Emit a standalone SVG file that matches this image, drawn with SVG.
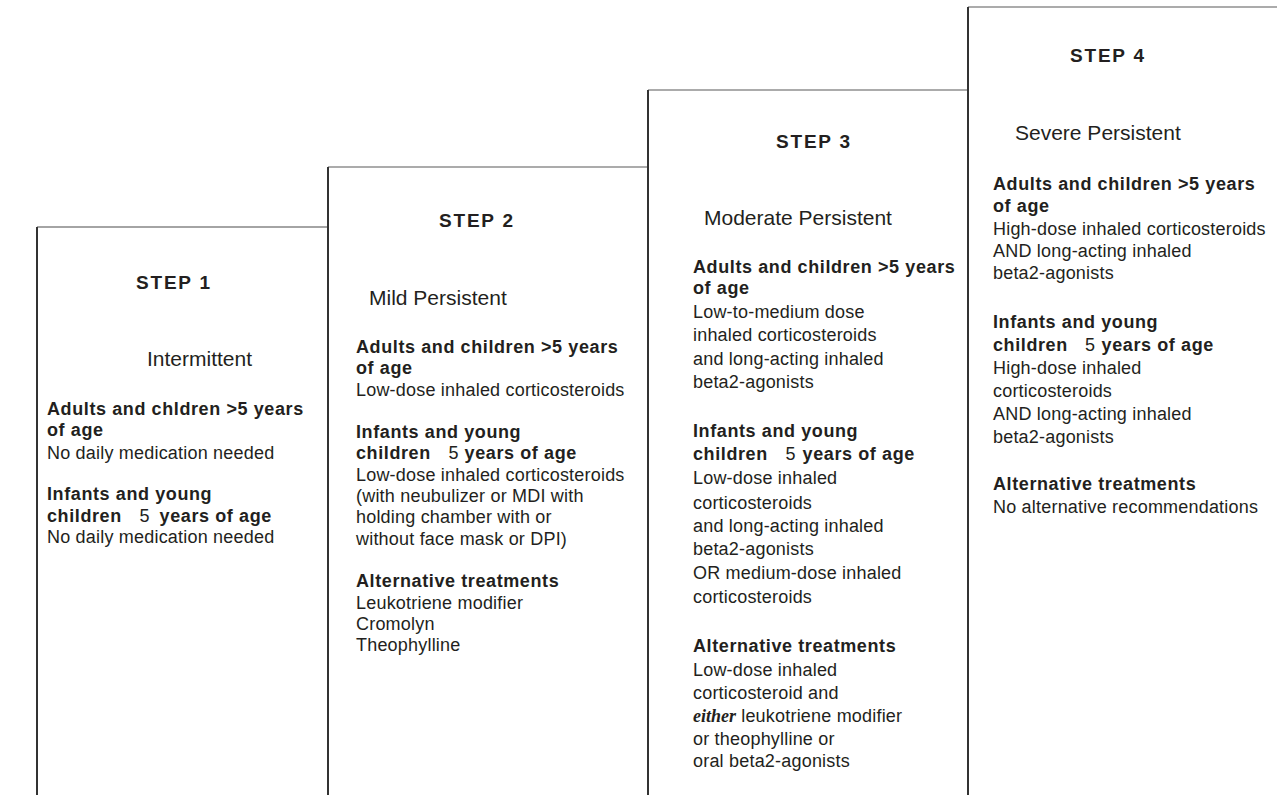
<svg xmlns="http://www.w3.org/2000/svg" width="1277" height="795" viewBox="0 0 1277 795">
<style>
text{font-family:"Liberation Sans",Arial,sans-serif;fill:#231f20}
.h{font-size:19px;font-weight:bold;letter-spacing:1.8px}
.s{font-size:21px;font-weight:normal}
.b{font-size:18px;font-weight:bold;letter-spacing:0.6px}
.r{font-size:18px;letter-spacing:0.2px;font-weight:normal}
.e{font-family:"Liberation Serif","Times New Roman",serif;font-style:italic;font-weight:bold;font-size:18px;letter-spacing:0}
.v{stroke:#333;stroke-width:2;fill:none}
.t{stroke:#8f8f8f;stroke-width:1.5;fill:none}
.t1{stroke:#4a4a4a;stroke-width:1.2;fill:none}
</style>
<rect width="1277" height="795" fill="#fff"/>
<g id="outline">
<path class="t1" d="M37 227H328"/>
<path class="t" d="M328 167H648"/>
<path class="t" d="M648 90H968"/>
<path class="t" d="M968 7H1277"/>
<path class="v" d="M37 227V795"/>
<path class="v" d="M328 167V795"/>
<path class="v" d="M648 90V795"/>
<path class="v" d="M968 7V795"/>
</g>
<g id="step1">
<text class="h" x="136" y="289">STEP 1</text>
<text class="s" x="147" y="366">Intermittent</text>
<text class="b" x="47" y="415">Adults and chldren &gt;5 years</text>
<text class="b" x="47" y="436">of age</text>
<text class="r" x="47" y="459">No daily medication needed</text>
<text class="b" x="47" y="500">Infants and young</text>
<text class="b" x="47" y="522">children<tspan class="r" x="139.5">5</tspan><tspan x="154"> years of age</tspan></text>
<text class="r" x="47" y="543">No daily medication needed</text>
</g>
<g id="step2">
<text class="h" x="439" y="227">STEP 2</text>
<text class="s" x="369" y="305">Mild Persistent</text>
<text class="b" x="356" y="353">Adults and children &gt;5 years</text>
<text class="b" x="356" y="374">of age</text>
<text class="r" x="356" y="396">Low-dose inhaled corticosteroids</text>
<text class="b" x="356" y="438">Infants and young</text>
<text class="b" x="356" y="459">children<tspan class="r" x="448.5">5</tspan><tspan x="459"> years of age</tspan></text>
<text class="r" x="356" y="481">Low-dose inhaled corticosteroids</text>
<text class="r" x="356" y="502">(with neubulizer or MDI with</text>
<text class="r" x="356" y="523">holding chamber with or</text>
<text class="r" x="356" y="545">without face mask or DPI)</text>
<text class="b" x="356" y="587">Alternative treatments</text>
<text class="r" x="356" y="609">Leukotriene modifier</text>
<text class="r" x="356" y="630">Cromolyn</text>
<text class="r" x="356" y="651">Theophylline</text>
</g>
<g id="step3">
<text class="h" x="776" y="148">STEP 3</text>
<text class="s" x="704" y="225">Moderate Persistent</text>
<text class="b" x="693" y="273">Adults and children &gt;5 years</text>
<text class="b" x="693" y="294">of age</text>
<text class="r" x="693" y="318">Low-to-medium dose</text>
<text class="r" x="693" y="341">inhaled corticosteroids</text>
<text class="r" x="693" y="365">and long-acting inhaled</text>
<text class="r" x="693" y="388">beta2-agonists</text>
<text class="b" x="693" y="437">Infants and young</text>
<text class="b" x="693" y="460">children<tspan class="r" x="785.5">5</tspan><tspan x="797"> years of age</tspan></text>
<text class="r" x="693" y="484">Low-dose inhaled</text>
<text class="r" x="693" y="509">corticosteroids</text>
<text class="r" x="693" y="532">and long-acting inhaled</text>
<text class="r" x="693" y="555">beta2-agonists</text>
<text class="r" x="693" y="579">OR medium-dose inhaled</text>
<text class="r" x="693" y="603">corticosteroids</text>
<text class="b" x="693" y="652">Alternative treatments</text>
<text class="r" x="693" y="676">Low-dose inhaled</text>
<text class="r" x="693" y="699">corticosteroid and</text>
<text class="r" x="693" y="722"><tspan class="e">either</tspan> leukotriene modifier</text>
<text class="r" x="693" y="745">or theophylline or</text>
<text class="r" x="693" y="767">oral beta2-agonists</text>
</g>
<g id="step4">
<text class="h" x="1070" y="62">STEP 4</text>
<text class="s" x="1015" y="140">Severe Persistent</text>
<text class="b" x="993" y="190">Adults and children &gt;5 years</text>
<text class="b" x="993" y="212">of age</text>
<text class="r" x="993" y="235">High-dose inhaled corticosteroids</text>
<text class="r" x="993" y="257">AND long-acting inhaled</text>
<text class="r" x="993" y="279">beta2-agonists</text>
<text class="b" x="993" y="328">Infants and young</text>
<text class="b" x="993" y="351">children<tspan class="r" x="1085">5</tspan><tspan x="1096"> years of age</tspan></text>
<text class="r" x="993" y="374">High-dose inhaled</text>
<text class="r" x="993" y="397">corticosteroids</text>
<text class="r" x="993" y="420">AND long-acting inhaled</text>
<text class="r" x="993" y="443">beta2-agonists</text>
<text class="b" x="993" y="490">Alternative treatments</text>
<text class="r" x="993" y="513">No alternative recommendations</text>
</g>
</svg>
